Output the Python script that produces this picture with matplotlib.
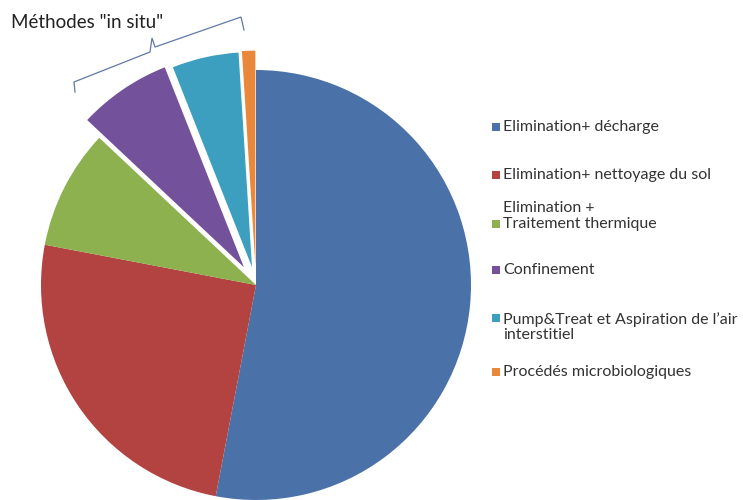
import matplotlib
matplotlib.use("Agg")
import matplotlib.pyplot as plt
from matplotlib.patches import Rectangle

plt.rcParams['font.family'] = ['Lato', 'DejaVu Sans']

# Share of each remediation technique (percent)
categories = [
    "Elimination+ décharge",
    "Elimination+ nettoyage du sol",
    "Elimination +\nTraitement thermique",
    "Confinement",
    "Pump&Treat et Aspiration de l\u2019air\ninterstitiel",
    "Procédés microbiologiques",
]
values = [53, 25, 9, 7, 5, 1]
colors = ["#4A72A9", "#B24341", "#8DB14F", "#74529B", "#3D9FBF", "#E9883A"]

W, H = 743, 500
fig = plt.figure(figsize=(W / 100, H / 100), dpi=100)
ax = fig.add_axes([0, 0, 1, 1])

# pie laid out in pixel-like units (y measured upward)
cx, cy, R = 256, H - 285, 215
# pull the "in situ" wedges out of the pie (offsets in the same units)
explode = [0, 0, 0, 0.10 * R, 0.085 * R, 0.09 * R]
ax.pie(values, colors=colors, explode=explode, startangle=90,
       counterclock=False, center=(cx, cy), radius=R,
       wedgeprops=dict(linewidth=0))
ax.set_xlim(0, W)
ax.set_ylim(0, H)
ax.set_aspect('equal', adjustable='box')
ax.axis('off')

# bracket grouping the "in situ" methods
bx = [75, 74, 150, 152, 155, 241, 244]
by = [92, 82, 52, 38, 47, 17, 30]
ax.plot(bx, [H - v for v in by], color="#5F79A8", lw=0.9, solid_joinstyle='miter')
ax.text(11, H - 23, 'Méthodes "in situ"', fontsize=13.5, color="#222222",
        va='center', ha='left')

# legend drawn as colored squares with labels
leg_y = [127, 175, 224, 270, 318, 372]
text_y = [127, 175, 216, 270, 327, 372]
for lab, col, ys, yt in zip(categories, colors, leg_y, text_y):
    ax.add_patch(Rectangle((492, H - ys - 4), 8, 8, color=col, lw=0))
    ax.text(503, H - yt, lab, fontsize=11.5, color="#333333",
            va='center', ha='left', linespacing=1.12)

fig.savefig("out.png", dpi=100)
